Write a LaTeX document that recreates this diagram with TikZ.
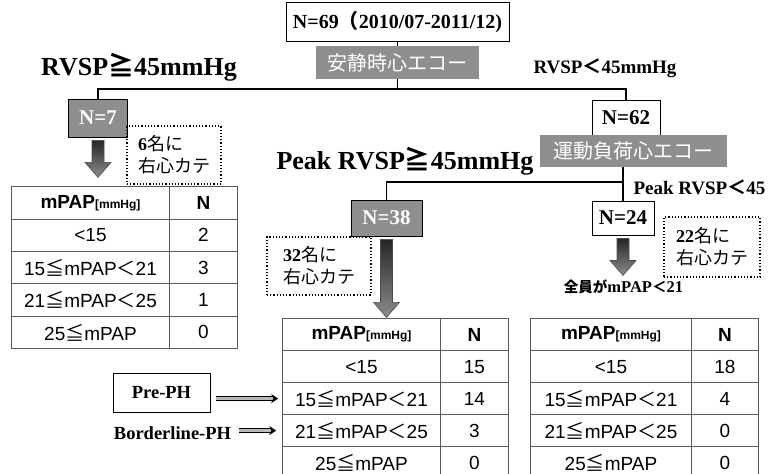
\documentclass[tikz,border=0pt]{standalone}
\usepackage{fontspec}
\setmainfont{Liberation Serif}
\setsansfont{Liberation Sans}
\newfontfamily\jp{Noto Sans CJK JP}
\usepackage{xcolor}
\usepackage{tikz}
\usetikzlibrary{arrows.meta, positioning, calc, matrix}
\definecolor{boxgray}{HTML}{8E8E8E}
\definecolor{rulegray}{HTML}{5A5A5A}

% block arrow hanging below a node: #1 = top anchor, #2 = length
\newcommand{\fatarrow}[2]{%
  \shade[top color=black!85, bottom color=black!45, draw=black!70, line width=0.6pt,
         shift={($(#1)+(0,3)$)}]
    (-6,0) -- (-6,#2-15) -- (-13,#2-15) -- (0,#2) -- (13,#2-15) -- (6,#2-15) -- (6,0) -- cycle;}

\begin{document}
\begin{tikzpicture}[x=1pt, y=-1pt,
  wbox/.style={draw, line width=1pt, fill=white, inner sep=0pt,
               font=\fontsize{21}{21}\selectfont\bfseries},
  gbox/.style={draw, line width=0.8pt, fill=boxgray, text=white, inner sep=0pt,
               font=\fontsize{21}{21}\selectfont\bfseries},
  echo/.style={fill=boxgray, text=white, inner sep=0pt, font=\jp\fontsize{20}{20}\selectfont},
  cath/.style={draw, dotted, line width=1.2pt, align=left, inner sep=0pt,
               font=\jp\fontsize{18}{22}\selectfont},
  cond/.style={font=\fontsize{26}{26}\selectfont\bfseries},
  subcond/.style={font=\fontsize{19}{19}\selectfont\bfseries},
  tree/.style={line width=1.6pt},
  dblarrow/.style={double=gray!55, double distance=2.4pt, line width=1pt,
                   -{Stealth[length=7pt, width=9pt]}},
  mtab/.style={matrix of nodes, anchor=north west, inner sep=0pt,
               row sep=-0.8pt, column sep=-0.8pt,
               nodes={draw=rulegray, line width=0.8pt, inner sep=0pt, anchor=center,
                      font=\sffamily\fontsize{19}{19}\selectfont}}]
\useasboundingbox (0,0) rectangle (769,474);

% ---- resting echo ------------------------------------------------------
\node[wbox, minimum width=223pt, minimum height=39pt, font=\fontsize{20}{20}\selectfont\bfseries]
  (n69) at (397.5,21.5) {N=69{\jp （}2010/07-2011/12)};
\node[echo, minimum width=163pt, minimum height=33pt] (echo1) at (397.5,62.5) {安静時心エコー};
\coordinate (split1) at (397.5,89);
\node[cond] (rvspH) at (139,67) {RVSP{\jp ≧}45mmHg};
\node[subcond] (rvspL) at (605,68) {RVSP{\jp ＜}45mmHg};

\node[gbox, minimum width=59pt, minimum height=38pt] (n7) at (98,118) {N=7};
\node[wbox, minimum width=68pt, minimum height=35pt] (n62) at (626,117.5) {N=62};

\draw[tree] (n69.south) -- (echo1.north);
\draw[tree] (echo1.south) -- (split1) -| (n7.north);
\draw[tree] (split1) -| (n62.north);

% ---- left branch -------------------------------------------------------
\node[cath, minimum width=94pt, minimum height=58pt] (cath1) at (174,155)
  {{\rmfamily\bfseries 6}名に\\右心カテ};
\fatarrow{n7.south}{37}

\matrix[mtab, nodes={minimum height=32.4pt},
        column 1/.style={nodes={minimum width=157.8pt}},
        column 2/.style={nodes={minimum width=68pt}}] (tabA) at (11,186) {
  \textbf{mPAP}{\fontsize{12}{12}\selectfont\textbf{[mmHg]}} & \textbf{N} \\
  <15 & 2 \\
  15{\jp ≦}mPAP{\jp ＜}21 & 3 \\
  21{\jp ≦}mPAP{\jp ＜}25 & 1 \\
  25{\jp ≦}mPAP & 0 \\
};

% ---- exercise echo -----------------------------------------------------
\node[echo, minimum width=187pt, minimum height=32pt] (echo2) at (633.5,151) {運動負荷心エコー};
\coordinate (split2) at (623,182);
\node[cond] (peakH) at (405,161) {Peak RVSP{\jp ≧}45mmHg};
\node[subcond, anchor=west] (peakL) at (630,187) {Peak RVSP{\jp ＜}45};

\node[gbox, minimum width=71pt, minimum height=36pt] (n38) at (386.5,218) {N=38};
\node[wbox, minimum width=62pt, minimum height=34pt] (n24) at (623,218) {N=24};

\draw[tree] (echo2.south -| split2) -- (split2) -| (n38.north);
\draw[tree] (split2) -- (n24.north);

\node[cath, minimum width=104pt, minimum height=58pt] (cath2) at (319,266)
  {{\rmfamily\bfseries 32}名に\\右心カテ};
\node[cath, minimum width=96pt, minimum height=60pt] (cath3) at (712,247)
  {{\rmfamily\bfseries 22}名に\\右心カテ};
\fatarrow{n38.south}{78}
\fatarrow{n24.south}{37}
\node[font=\fontsize{16.5}{16.5}\selectfont\bfseries] (allbelow) at (623.5,287)
  {{\jp\fontsize{14.5}{14.5}\selectfont 全員が}mPAP{\jp\fontsize{14.5}{14.5}\selectfont ＜}21};

% ---- bottom tables -----------------------------------------------------
\matrix[mtab, nodes={minimum height=32pt},
        column 1/.style={nodes={minimum width=157.8pt}},
        column 2/.style={nodes={minimum width=68pt}}] (tabB) at (282,318) {
  \textbf{mPAP}{\fontsize{12}{12}\selectfont\textbf{[mmHg]}} & \textbf{N} \\
  <15 & 15 \\
  15{\jp ≦}mPAP{\jp ＜}21 & 14 \\
  21{\jp ≦}mPAP{\jp ＜}25 & 3 \\
  25{\jp ≦}mPAP & 0 \\
};
\matrix[mtab, nodes={minimum height=32pt},
        column 1/.style={nodes={minimum width=160.8pt}},
        column 2/.style={nodes={minimum width=67pt}}] (tabC) at (530,318) {
  \textbf{mPAP}{\fontsize{12}{12}\selectfont\textbf{[mmHg]}} & \textbf{N} \\
  <15 & 18 \\
  15{\jp ≦}mPAP{\jp ＜}21 & 4 \\
  21{\jp ≦}mPAP{\jp ＜}25 & 0 \\
  25{\jp ≦}mPAP & 0 \\
};

% ---- PH labels ---------------------------------------------------------
\node[wbox, minimum width=97pt, minimum height=39pt, font=\fontsize{18.5}{18.5}\selectfont\bfseries]
  (prePH) at (161.5,392.5) {Pre-PH};
\node[font=\fontsize{18.5}{18.5}\selectfont\bfseries] (border) at (172.5,433) {Borderline-PH};
\draw[dblarrow, shorten <=5pt, shorten >=4pt] (prePH.east |- tabB-3-1.west) -- (tabB-3-1.west);
\draw[dblarrow, shorten <=4pt, shorten >=6pt] (border.east |- tabB-4-1.west) -- (tabB-4-1.west);
\end{tikzpicture}
\end{document}
